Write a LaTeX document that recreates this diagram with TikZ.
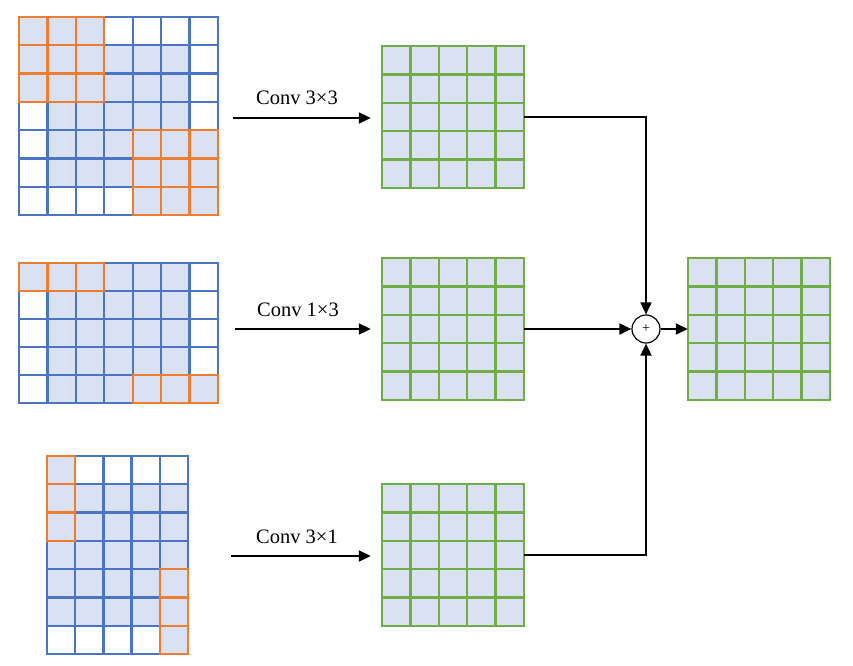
\documentclass[tikz,border=0pt]{standalone}
\usepackage{fontspec}
\setmainfont{Liberation Serif}
\usetikzlibrary{arrows.meta}
\definecolor{gridblue}{HTML}{4A74C4}
\definecolor{cellfill}{HTML}{DAE1F3}
\definecolor{gridorange}{HTML}{ED7D31}
\definecolor{gridgreen}{HTML}{70AD47}
\tikzset{
  cellfillstyle/.style={fill=cellfill},
  blueline/.style={draw=gridblue,line width=2.3pt},
  greenline/.style={draw=gridgreen,line width=2.3pt},
  orangeline/.style={draw=gridorange,line width=2.3pt},
  arr/.style={line width=2pt,-{Triangle[length=12pt,width=11pt]}},
  conn/.style={line width=1.8pt,-{Triangle[length=12pt,width=11pt]}},
  featbox/.style={rectangle,inner sep=0pt,minimum width=142pt,minimum height=142pt},
  convlabel/.style={font=\fontsize{20.5}{24}\selectfont,inner sep=0pt},
  sumnode/.style={circle,draw,line width=1.2pt,minimum size=28pt,inner sep=0pt,font=\fontsize{14}{14}\selectfont},
}
\newcommand\drawgrid[6]{%
 \foreach \row [count=\r from 0] in {#6} {%
   \foreach \v [count=\c from 0] in \row {%
     \ifnum\v>0 \fill[cellfillstyle] ({#1+\c*#3},{-#2-\r*#4}) rectangle ++(#3,-#4);\fi
   }}%
 \foreach \row [count=\r from 0] in {#6} {%
   \foreach \v [count=\c from 0] in \row {%
     \draw[#5] ({#1+\c*#3},{-#2-\r*#4}) rectangle ++(#3,-#4);
   }}%
 \foreach \row [count=\r from 0] in {#6} {%
   \foreach \v [count=\c from 0] in \row {%
     \ifnum\v=2 \draw[orangeline] ({#1+\c*#3},{-#2-\r*#4}) rectangle ++(#3,-#4);\fi
   }}%
}
\begin{document}
\begin{tikzpicture}[x=1pt,y=1pt]
\useasboundingbox (0,0) rectangle (853,-665);
% input grids
\drawgrid{19}{17}{28.43}{28.29}{blueline}{{2,2,2,0,0,0,0},{2,2,2,1,1,1,0},{2,2,2,1,1,1,0},{0,1,1,1,1,1,0},{0,1,1,1,2,2,2},{0,1,1,1,2,2,2},{0,0,0,0,2,2,2}}
\drawgrid{19}{263}{28.43}{28}{blueline}{{2,2,2,1,1,1,0},{0,1,1,1,1,1,0},{0,1,1,1,1,1,0},{0,1,1,1,1,1,0},{0,1,1,1,2,2,2}}
\drawgrid{47}{456}{28.2}{28.29}{blueline}{{2,0,0,0,0},{2,1,1,1,1},{2,1,1,1,1},{1,1,1,1,1},{1,1,1,1,2},{1,1,1,1,2},{0,0,0,0,2}}
% feature maps
\drawgrid{382}{46}{28.4}{28.4}{greenline}{{1,1,1,1,1},{1,1,1,1,1},{1,1,1,1,1},{1,1,1,1,1},{1,1,1,1,1}}
\drawgrid{382}{258}{28.4}{28.4}{greenline}{{1,1,1,1,1},{1,1,1,1,1},{1,1,1,1,1},{1,1,1,1,1},{1,1,1,1,1}}
\drawgrid{382}{484}{28.4}{28.4}{greenline}{{1,1,1,1,1},{1,1,1,1,1},{1,1,1,1,1},{1,1,1,1,1},{1,1,1,1,1}}
\drawgrid{688}{258}{28.4}{28.4}{greenline}{{1,1,1,1,1},{1,1,1,1,1},{1,1,1,1,1},{1,1,1,1,1},{1,1,1,1,1}}
\node[featbox] (G1) at (453,-117) {};
\node[featbox] (G2) at (453,-329) {};
\node[featbox] (G3) at (453,-555) {};
\node[featbox] (G4) at (759,-329) {};
\node[sumnode] (plus) at (646,-329) {+};
% conv arrows
\coordinate (s1) at (233,-118);
\coordinate (s2) at (235,-329);
\coordinate (s3) at (231,-556);
\draw[arr,shorten >=11pt] (s1) -- (s1 -| G1.west);
\draw[arr,shorten >=11pt] (s2) -- (G2.west);
\draw[arr,shorten >=11pt] (s3) -- (s3 -| G3.west);
\node[convlabel] (l1) at (297,-98) {Conv 3×3};
\node[convlabel] (l2) at (298,-310) {Conv 1×3};
\node[convlabel] (l3) at (297,-537) {Conv 3×1};
% connectors to sum
\draw[conn] (G1.east) -| (plus.north);
\draw[conn] (G2.east) -- (plus.west);
\draw[conn] (G3.east) -| (plus.south);
\draw[conn] (plus.east) -- (G4.west);
\end{tikzpicture}
\end{document}
